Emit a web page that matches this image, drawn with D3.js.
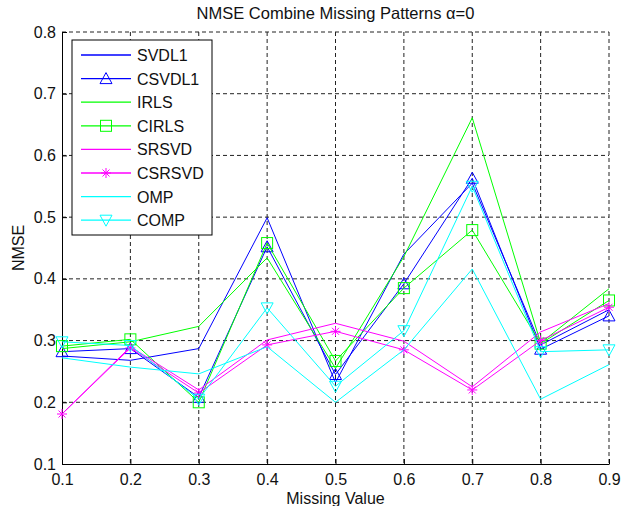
<!DOCTYPE html>
<html>
<head>
<meta charset="utf-8">
<script src="https://cdn.jsdelivr.net/npm/d3@7"></script>
<style>
body{margin:0;background:#fff;}
text{font-family:Arial,"Liberation Sans",sans-serif;}
</style>
</head>
<body>
<svg id="chart"></svg>
<script>
// 欠損率 (x軸)
var missing = [0.1,0.2,0.3,0.4,0.5,0.6,0.7,0.8,0.9];
var yTicks  = [0.1,0.2,0.3,0.4,0.5,0.6,0.7,0.8];

// NMSE values
var svdl1  = [0.275,0.268,0.287,0.499,0.232,0.440,0.555,0.293,0.350];
var csvdl1 = [0.282,0.287,0.208,0.452,0.245,0.392,0.563,0.286,0.340];
var irls   = [0.287,0.298,0.323,0.434,0.255,0.436,0.661,0.296,0.384];
var cirls  = [0.291,0.302,0.200,0.458,0.267,0.385,0.479,0.295,0.365];
var srsvd  = [0.181,0.290,0.220,0.301,0.328,0.299,0.225,0.314,0.360];
var csrsvd = [0.181,0.288,0.215,0.293,0.315,0.285,0.220,0.300,0.354];
var omp    = [0.272,0.257,0.246,0.290,0.200,0.285,0.416,0.205,0.261];
var comp   = [0.298,0.292,0.205,0.353,0.226,0.316,0.550,0.282,0.285];

var names  = ['SVDL1','CSVDL1','IRLS','CIRLS','SRSVD','CSRSVD','OMP','COMP'];
var values = [svdl1,csvdl1,irls,cirls,srsvd,csrsvd,omp,comp];
var colors = ['#0000ff','#0000ff','#00ff00','#00ff00','#ff00ff','#ff00ff','#00ffff','#00ffff'];
var marks  = ['none','tri','none','square','none','star','none','tridown'];

var svgWidth = 624, svgHeight = 506;
// plot box (window.top is reserved, so pX names)
var pLeft = 62, pRight = 609, pTop = 32, pBottom = 464;

var svg = d3.select('#chart').attr('width',svgWidth).attr('height',svgHeight);

var x = d3.scaleLinear().domain([0.1,0.9]).range([pLeft,pRight]);
var y = d3.scaleLinear().domain([0.1,0.8]).range([pBottom,pTop]);

// grid (dotted)
svg.append('g').selectAll('line').data(missing.slice(1)).enter().append('line')
  .attr('x1',function(d){return x(d);}).attr('x2',function(d){return x(d);})
  .attr('y1',pTop).attr('y2',pBottom)
  .attr('stroke','#222').attr('stroke-dasharray','4,3');
svg.append('g').selectAll('line').data(yTicks.slice(1)).enter().append('line')
  .attr('x1',pLeft).attr('x2',pRight)
  .attr('y1',function(d){return y(d);}).attr('y2',function(d){return y(d);})
  .attr('stroke','#222').attr('stroke-dasharray','4,3');

// axes
var xAxis = d3.axisBottom(x).tickValues(missing).tickFormat(d3.format('.1f'))
  .tickSizeInner(-5).tickSizeOuter(0).tickPadding(10);
var yAxis = d3.axisLeft(y).tickValues(yTicks).tickFormat(d3.format('.1f'))
  .tickSizeInner(-5).tickSizeOuter(0).tickPadding(6);

svg.append('g').attr('transform','translate(0,'+pBottom+')').call(xAxis)
  .call(function(g){g.selectAll('text').attr('font-size',16).attr('fill','#111');});
svg.append('g').attr('transform','translate('+pLeft+',0)').call(yAxis)
  .call(function(g){g.selectAll('text').attr('font-size',16).attr('fill','#111');});
svg.selectAll('.domain').attr('stroke','#000');

// lines
var line = d3.line()
  .x(function(d,i){return x(missing[i]);})
  .y(function(d){return y(d);});

function marker(sel,type,col){
  if(type=='tri'){
    sel.append('path').attr('d','M0,-6L6,5L-6,5Z').attr('fill','none').attr('stroke',col);
  }else if(type=='tridown'){
    sel.append('path').attr('d','M0,6L6,-5L-6,-5Z').attr('fill','none').attr('stroke',col);
  }else if(type=='square'){
    sel.append('rect').attr('x',-5.5).attr('y',-5.5).attr('width',11).attr('height',11)
      .attr('fill','none').attr('stroke',col);
  }else if(type=='star'){
    sel.append('path').attr('d','M-5,0H5M0,-5V5M-3.5,-3.5L3.5,3.5M-3.5,3.5L3.5,-3.5')
      .attr('fill','none').attr('stroke',col);
  }
}

values.forEach(function(v,k){
  svg.append('path').datum(v).attr('d',line)
    .attr('fill','none').attr('stroke',colors[k]).attr('stroke-width',1);
  if(marks[k]!='none'){
    v.forEach(function(d,i){
      var g = svg.append('g').attr('transform','translate('+x(missing[i])+','+y(d)+')');
      marker(g,marks[k],colors[k]);
    });
  }
});

// legend
var leg = svg.append('g');
leg.append('rect').attr('x',72).attr('y',40).attr('width',140).attr('height',195)
  .attr('fill','#fff').attr('stroke','#000');
names.forEach(function(n,k){
  var ly = 55 + k*23.6;
  leg.append('line').attr('x1',81).attr('x2',131).attr('y1',ly).attr('y2',ly)
    .attr('stroke',colors[k]).attr('stroke-width',1.3);
  if(marks[k]!='none'){
    marker(leg.append('g').attr('transform','translate(106,'+ly+')'),marks[k],colors[k]);
  }
  leg.append('text').attr('x',137).attr('y',ly+6).attr('font-size',16).attr('fill','#111').text(n);
});

// titles
svg.append('text').attr('x',(pLeft+pRight)/2).attr('y',19).attr('text-anchor','middle')
  .attr('font-size',16.5).attr('fill','#111').text('NMSE Combine Missing Patterns α=0');
svg.append('text').attr('x',(pLeft+pRight)/2).attr('y',504).attr('text-anchor','middle')
  .attr('font-size',16).attr('fill','#111').text('Missing Value');
svg.append('text').attr('transform','translate(24,'+((pTop+pBottom)/2)+') rotate(-90)')
  .attr('text-anchor','middle').attr('font-size',16).attr('fill','#111').text('NMSE');
</script>
</body>
</html>
